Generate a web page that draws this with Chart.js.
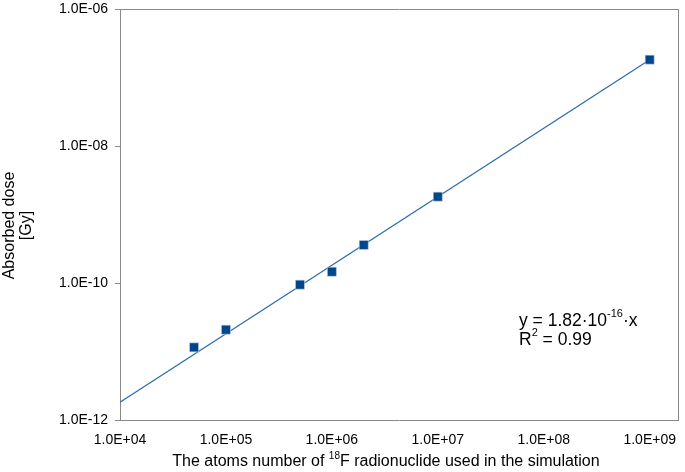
<!DOCTYPE html>
<html>
<head>
<meta charset="utf-8">
<script src="https://cdn.jsdelivr.net/npm/chart.js@4.4.1/dist/chart.umd.min.js"></script>
<style>
  html, body { margin: 0; padding: 0; background: #ffffff; }
  #wrap { width: 685px; height: 472px; }
</style>
</head>
<body>
<div id="wrap"><canvas id="c" width="685" height="472"></canvas></div>
<script>
// ---- data ----
const atomCounts = [5e4, 1e5, 5e5, 1e6, 2e6, 1e7, 1e9];
const absorbedDose = [1.15e-11, 2.08e-11, 9.45e-11, 1.46e-10, 3.59e-10, 1.82e-9, 1.82e-7];
const fitX = [1e4, 1e9];
const fitY = [1.82e-12, 1.82e-7];
const xTickValues = [1e4, 1e5, 1e6, 1e7, 1e8, 1e9];
const yTickValues = [1e-12, 1e-10, 1e-8, 1e-6];
const xTitleParts = ["The atoms number of ", "18", "F radionuclide used in the simulation"];
const yTitleLines = ["Absorbed dose", "[Gy]"];
const eqParts = ["y = 1.82·10", "-16", "·x"];
const r2Parts = ["R", "2", " = 0.99"];

const FONT = "'Liberation Sans', Arial, sans-serif";
const AXIS_GRAY = '#898989';

function sciLabel(v) {
  const e = Math.round(Math.log10(v));
  const sign = e < 0 ? '-' : '+';
  const a = Math.abs(e);
  return '1.0E' + sign + (a < 10 ? '0' + a : '' + a);
}

function drawSupText(ctx, parts, x, y, size) {
  let cx = x;
  parts.forEach((p, i) => {
    const sup = i % 2 === 1;
    const fs = sup ? Math.round(size * 0.65) : size;
    ctx.font = fs + 'px ' + FONT;
    ctx.fillText(p, cx, sup ? y - size * 0.38 : y);
    cx += ctx.measureText(p).width;
  });
}
function measureSupText(ctx, parts, size) {
  let w = 0;
  parts.forEach((p, i) => {
    const sup = i % 2 === 1;
    const fs = sup ? Math.round(size * 0.65) : size;
    ctx.font = fs + 'px ' + FONT;
    w += ctx.measureText(p).width;
  });
  return w;
}

const decorPlugin = {
  id: 'decor',
  afterDraw(chart) {
    const ctx = chart.ctx;
    const a = chart.chartArea;
    ctx.save();
    ctx.strokeStyle = AXIS_GRAY;
    ctx.lineWidth = 1;
    ctx.beginPath();
    ctx.moveTo(Math.round(a.left) + 0.5, Math.round(a.top) + 0.5);
    ctx.lineTo(Math.round(a.right) + 0.5, Math.round(a.top) + 0.5);
    ctx.lineTo(Math.round(a.right) + 0.5, Math.round(a.bottom) + 0.5);
    ctx.stroke();

    ctx.fillStyle = '#000000';
    ctx.textBaseline = 'middle';
    ctx.textAlign = 'left';
    const xs = 16;
    const w = measureSupText(ctx, xTitleParts, xs);
    drawSupText(ctx, xTitleParts, 386 - w / 2, 462, xs);

    drawSupText(ctx, eqParts, 519, 321, 17.5);
    drawSupText(ctx, r2Parts, 519, 340, 17.5);

    ctx.font = '16px ' + FONT;
    ctx.textAlign = 'center';
    ctx.textBaseline = 'middle';
    const xsPos = [9.5, 27];
    yTitleLines.forEach((t, i) => {
      ctx.save();
      ctx.translate(xsPos[i], 225.5);
      ctx.rotate(-Math.PI / 2);
      ctx.fillText(t, 0, 0);
      ctx.restore();
    });
    ctx.restore();
  }
};

new Chart(document.getElementById('c'), {
  type: 'scatter',
  data: {
    datasets: [
      {
        label: 'Simulation',
        data: atomCounts.map((x, i) => ({ x: x, y: absorbedDose[i] })),
        pointStyle: 'rect',
        pointRadius: 6.4,
        pointHoverRadius: 6.4,
        backgroundColor: '#00468b',
        borderColor: '#c9d6e6',
        borderWidth: 0.6,
        showLine: false
      },
      {
        label: 'Fit',
        data: fitX.map((x, i) => ({ x: x, y: fitY[i] })),
        showLine: true,
        borderColor: '#2e6dad',
        borderWidth: 1.3,
        pointRadius: 0,
        fill: false
      }
    ]
  },
  options: {
    responsive: false,
    animation: false,
    events: [],
    layout: { padding: { top: 9, right: 3, left: 0, bottom: 0 } },
    plugins: { legend: { display: false }, tooltip: { enabled: false } },
    scales: {
      x: {
        type: 'logarithmic',
        position: 'bottom',
        min: 1e4,
        max: 1.85e9,
        afterBuildTicks: (s) => { s.ticks = xTickValues.map(v => ({ value: v })); },
        afterFit: (s) => { s.height = 52; s.paddingLeft = 0; s.paddingRight = 0; },
        grid: { display: false },
        border: { display: true, color: AXIS_GRAY, width: 1 },
        ticks: {
          autoSkip: false,
          maxRotation: 0,
          padding: 4,
          color: '#000000',
          font: { family: FONT, size: 14 },
          callback: (v) => sciLabel(v)
        }
      },
      y: {
        type: 'logarithmic',
        position: 'left',
        min: 1e-12,
        max: 1e-6,
        afterBuildTicks: (s) => { s.ticks = yTickValues.map(v => ({ value: v })); },
        afterFit: (s) => { s.width = 120; s.paddingTop = 0; s.paddingBottom = 0; },
        grid: {
          display: true,
          drawOnChartArea: false,
          drawTicks: true,
          tickLength: 5,
          color: AXIS_GRAY
        },
        border: { display: true, color: AXIS_GRAY, width: 1 },
        ticks: {
          autoSkip: false,
          padding: 7,
          color: '#000000',
          font: { family: FONT, size: 14 },
          callback: (v) => sciLabel(v)
        }
      }
    }
  },
  plugins: [decorPlugin]
});
</script>
</body>
</html>
